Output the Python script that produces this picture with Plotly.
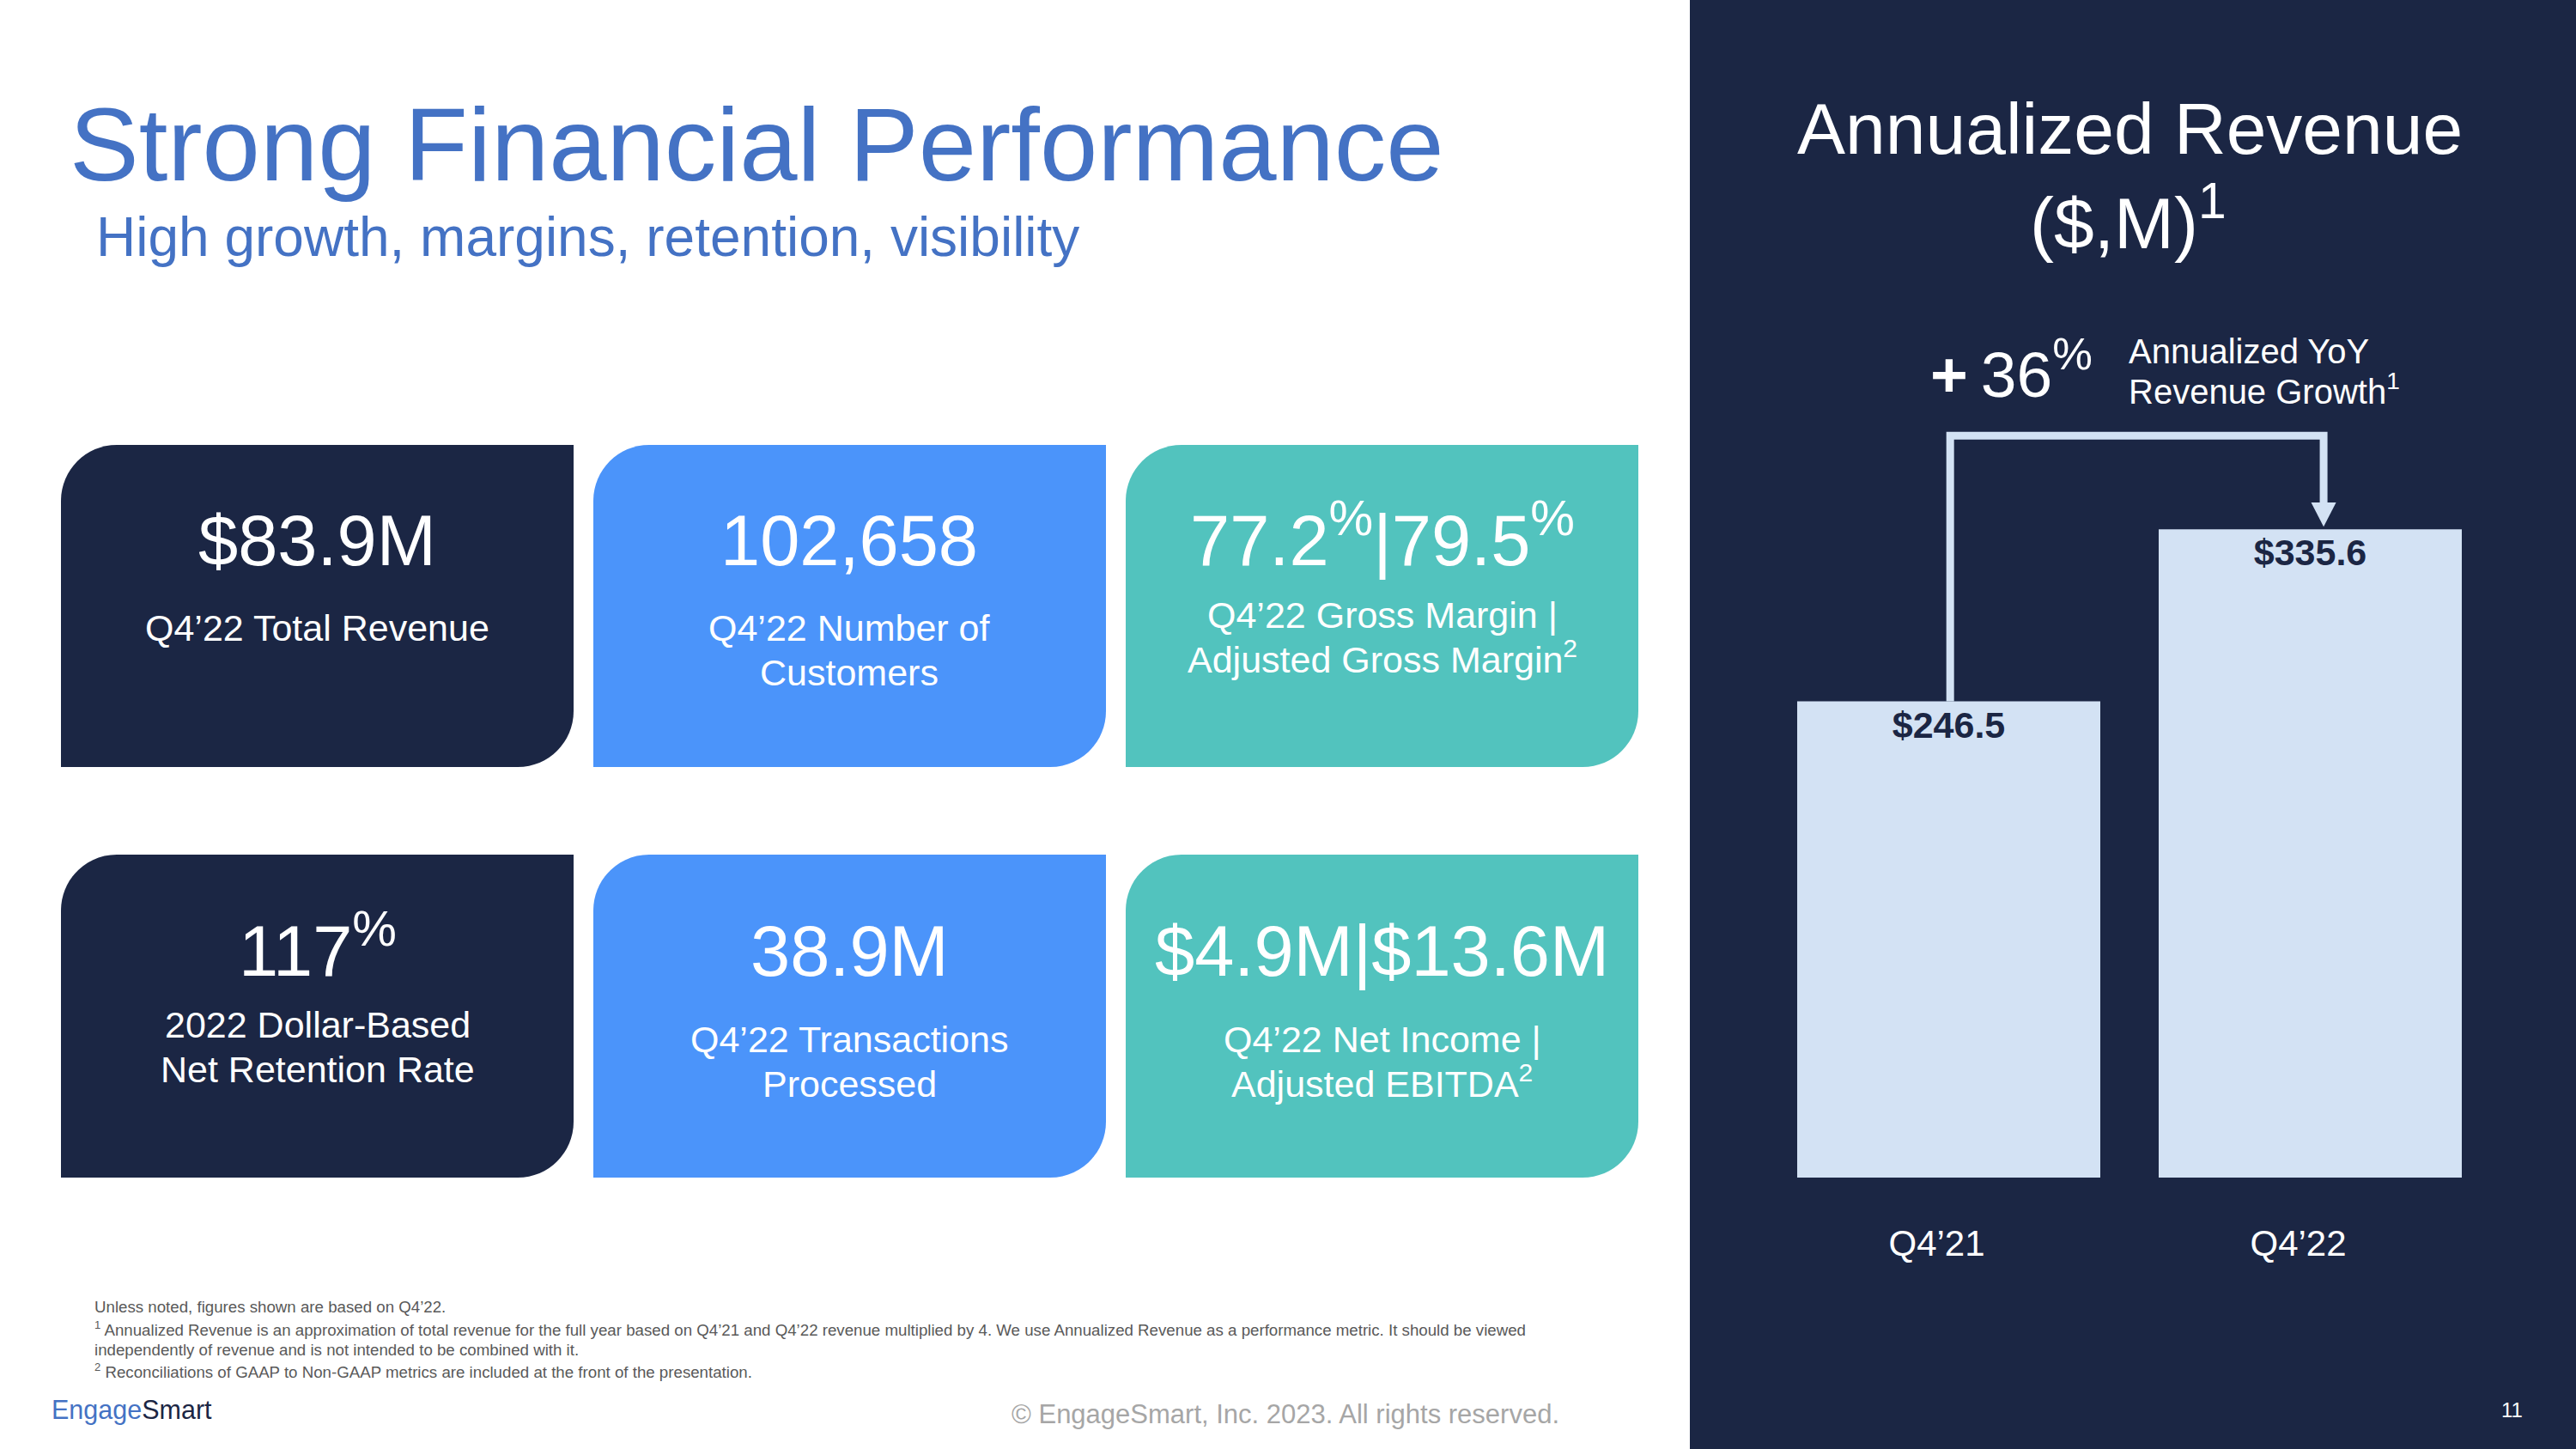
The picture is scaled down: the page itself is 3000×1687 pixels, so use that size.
import plotly.graph_objects as go

# ---------------- data ----------------
categories = ["Q4’21", "Q4’22"]
annualized_revenue = [246.5, 335.6]
growth_value = "36"

kpi_values = [
    "$83.9M",
    "102,658",
    "77.2<sup>%</sup>|79.5<sup>%</sup>",
    "117<sup>%</sup>",
    "38.9M",
    "$4.9M|$13.6M",
]
kpi_labels = [
    ["Q4’22 Total Revenue"],
    ["Q4’22 Number of", "Customers"],
    ["Q4’22 Gross Margin |", "Adjusted Gross Margin<sup>2</sup>"],
    ["2022 Dollar-Based", "Net Retention Rate"],
    ["Q4’22 Transactions", "Processed"],
    ["Q4’22 Net Income |", "Adjusted EBITDA<sup>2</sup>"],
]
footnotes = [
    "Unless noted, figures shown are based on Q4’22.",
    "<sup>1</sup> Annualized Revenue is an approximation of total revenue for the full year based on Q4’21 and Q4’22 revenue multiplied by 4. We use Annualized Revenue as a performance metric. It should be viewed",
    "independently of revenue and is not intended to be combined with it.",
    "<sup>2</sup> Reconciliations of GAAP to Non-GAAP metrics are included at the front of the presentation.",
]

# ---------------- style / layout constants ----------------
W, H = 3000, 1687
FONT = "Liberation Sans, Arial, Helvetica, sans-serif"
NAVY = "#1B2644"
BLUE = "#4B94FA"
TEAL = "#52C3BE"
TITLE_BLUE = "#4472C4"
BAR = "#D3E2F4"
card_colors = [NAVY, BLUE, TEAL, NAVY, BLUE, TEAL]

card_x = [(71, 668), (691, 1288), (1311, 1908)]
card_y = [(518, 893), (995, 1371)]
value_baseline = [658, 1136]
label_baselines = [
    [746], [746, 798], [731, 783],
    [1208, 1260], [1225, 1277], [1225, 1277],
]
R = 65


def px(x):
    return x / W


def py(y):
    return 1 - y / H


def P(x, y):
    return f"{px(x):.6f},{py(y):.6f}"


fig = go.Figure()

# bars
fig.add_trace(go.Bar(
    x=[0, 1], y=annualized_revenue, width=0.8385,
    marker=dict(color=BAR, line=dict(width=0)),
    texttemplate="<b>$%{y:.1f}</b>", textposition="inside", insidetextanchor="end",
    textfont=dict(family=FONT, size=43, color=NAVY),
    hoverinfo="skip",
))

shapes = []
# right dark panel
shapes.append(dict(type="rect", xref="paper", yref="paper", x0=px(1968), x1=1, y0=0, y1=1,
                   fillcolor=NAVY, line=dict(width=0), layer="below"))

# cards with rounded top-left and bottom-right corners
k = 0.5523 * R
for i in range(6):
    x0, x1 = card_x[i % 3]
    y0, y1 = card_y[i // 3]
    path = (f"M {P(x0, y0 + R)} C {P(x0, y0 + R - k)} {P(x0 + R - k, y0)} {P(x0 + R, y0)} "
            f"L {P(x1, y0)} L {P(x1, y1 - R)} "
            f"C {P(x1, y1 - R + k)} {P(x1 - R + k, y1)} {P(x1 - R, y1)} "
            f"L {P(x0, y1)} Z")
    shapes.append(dict(type="path", xref="paper", yref="paper", path=path,
                       fillcolor=card_colors[i], line=dict(width=0), layer="below"))

# connector with arrow (data coordinates)
top_y = 384.0
xa, xb = 0.004, 1.037
arrow_base = 349.5
shapes.append(dict(type="path", xref="x", yref="y",
                   path=f"M {xa},{annualized_revenue[0]} L {xa},{top_y} L {xb},{top_y} L {xb},{arrow_base}",
                   line=dict(color=BAR, width=9), layer="above"))
shapes.append(dict(type="path", xref="x", yref="y",
                   path=f"M {xb - 0.0345},{arrow_base} L {xb + 0.0345},{arrow_base} L {xb},{annualized_revenue[1] + 1.3} Z",
                   fillcolor=BAR, line=dict(width=0), layer="above"))


def text(x, baseline, s, size, color, anchor="center"):
    yb = baseline + 0.212 * size + 2
    fig.add_annotation(x=px(x), y=py(yb), xref="paper", yref="paper", text=s,
                       showarrow=False, xanchor=anchor, yanchor="bottom",
                       font=dict(family=FONT, size=size, color=color))


# titles
text(79, 210, "Strong Financial Performance", 121, TITLE_BLUE, "left")
text(110, 298, "High growth, margins, retention, visibility", 64, TITLE_BLUE, "left")
text(2480, 179, "Annualized Revenue", 84, "white")
text(2478, 289, "($,M)<sup>1</sup>", 84, "white")

# growth callout
text(2246, 462, f"<b>+</b>\u2009{growth_value}<sup>%</sup>", 75, "white", "left")
text(2477, 423, "Annualized YoY", 40, "white", "left")
text(2477, 470, "Revenue Growth<sup>1</sup>", 40, "white", "left")

# card texts
for i in range(6):
    x0, x1 = card_x[i % 3]
    cx = (x0 + x1) / 2
    text(cx, value_baseline[i // 3], kpi_values[i], 83, "white")
    for line, bl in zip(kpi_labels[i], label_baselines[i]):
        text(cx, bl, line, 43, "white")

# footnotes
for line, bl in zip(footnotes, [1528, 1555, 1578, 1604]):
    text(108, bl, line, 18.7, "#595959", "left")

text(58, 1653, f"<span style='color:{TITLE_BLUE}'>Engage</span><span style='color:{NAVY}'>Smart</span>", 30.5, NAVY, "left")
text(1176, 1657, "© EngageSmart, Inc. 2023. All rights reserved.", 31, "#A6A6A6", "left")
text(2940, 1650, "11", 24, "white", "right")

fig.update_layout(
    width=W, height=H, autosize=False,
    margin=dict(l=0, r=0, t=0, b=0, pad=0),
    paper_bgcolor="white", plot_bgcolor="rgba(0,0,0,0)",
    showlegend=False, shapes=shapes,
    font=dict(family=FONT),
    xaxis=dict(domain=[px(2059), px(2901)], range=[-0.5, 1.5], tickvals=[0, 1], ticktext=categories,
               tickfont=dict(family=FONT, size=42, color="white"), showgrid=False, zeroline=False,
               showline=False, ticks="", ticklabelstandoff=48, ticklabelshift=-14, fixedrange=True),
    yaxis=dict(domain=[py(1371), py(371)], range=[0, 444.6], visible=False, fixedrange=True),
)

fig.write_html("out.html", config={"displayModeBar": False},
               post_script="document.body.style.margin='0';document.body.style.overflow='hidden';")
